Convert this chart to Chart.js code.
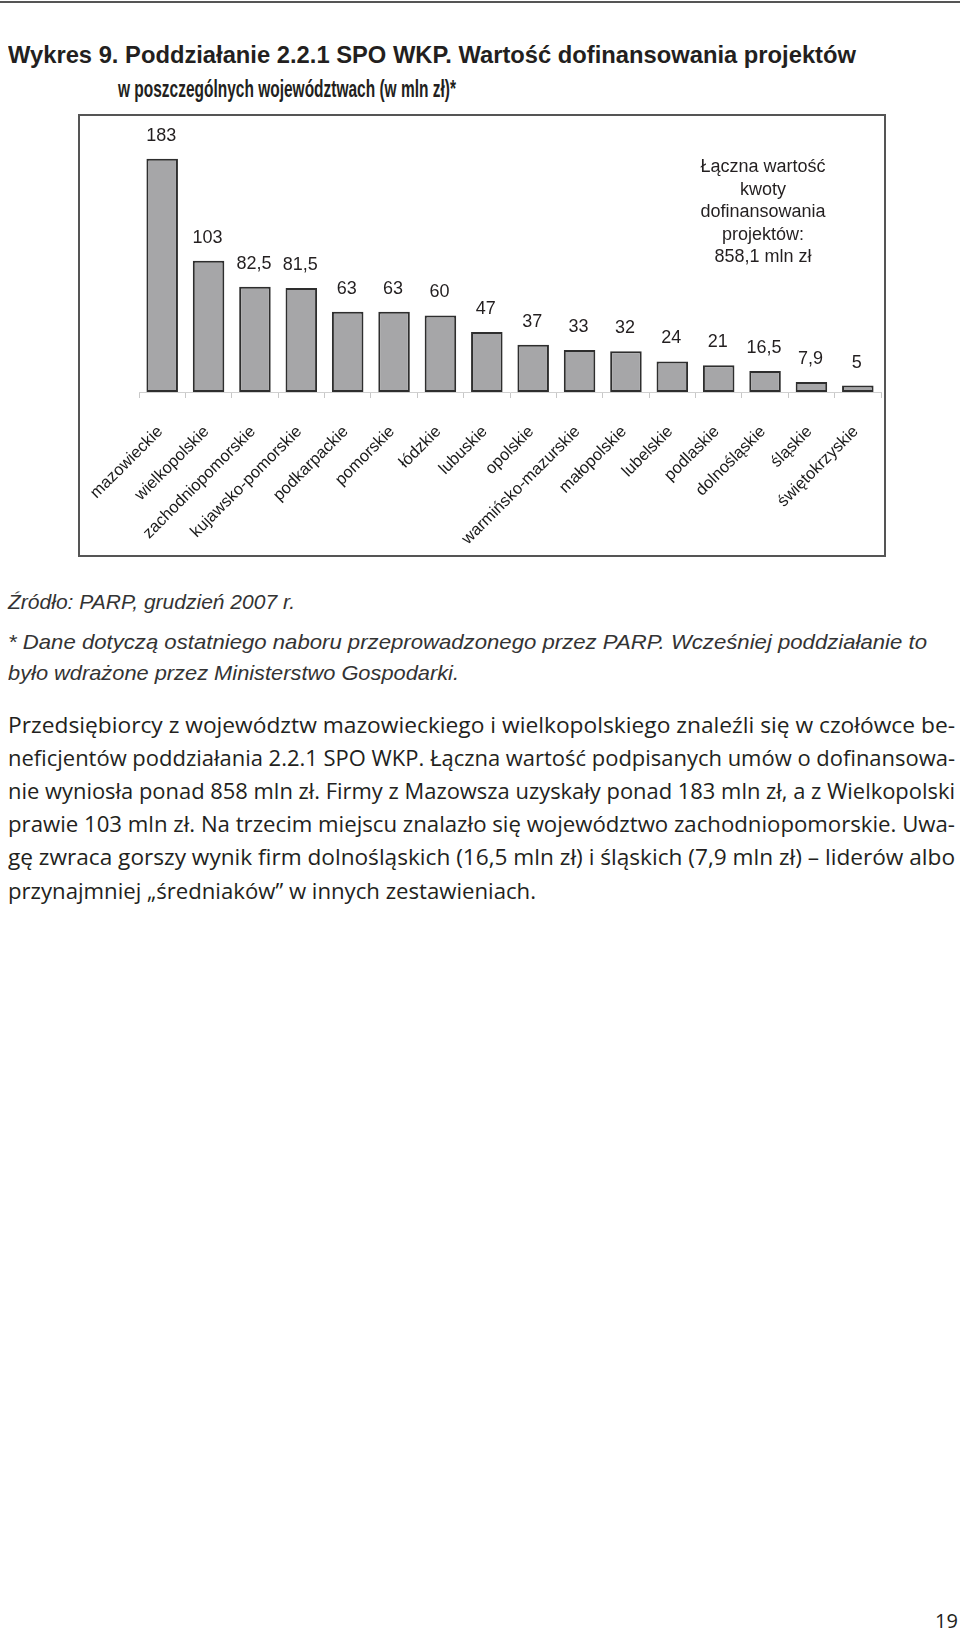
<!DOCTYPE html>
<html lang="pl">
<head>
<meta charset="utf-8">
<script src="https://cdn.jsdelivr.net/npm/chart.js@4.4.0/dist/chart.umd.min.js"></script>
<style>
  html, body { margin: 0; padding: 0; background: #fff; }
  body { width: 960px; height: 1632px; position: relative; overflow: hidden; color: #231f20; font-family: "Liberation Sans", Arial, sans-serif; }
  .rule { position: absolute; left: 0; top: 1px; width: 960px; height: 2px; background: #555; }
  .t { position: absolute; white-space: nowrap; transform-origin: 0 50%; line-height: 1; }
  .title { font-weight: bold; font-size: 24px; }
  .src { font-style: italic; font-size: 21px; color: #333; }
  .para { font-family: "Open Sans", sans-serif; font-size: 21.5px; }
  .box { position: absolute; left: 78px; top: 114px; width: 808px; height: 443px; box-sizing: border-box; border: 2px solid #555; }
  .wrap { position: absolute; left: 0; top: 114px; width: 960px; height: 443px; }
  .note { position: absolute; left: 663px; top: 155px; width: 200px; text-align: center; font-size: 18px; line-height: 22.5px; }
</style>
</head>
<body>
<div class="rule"></div>

<div class="t title" style="left:8px; top:43px;" data-w="848">Wykres 9. Poddziałanie 2.2.1 SPO WKP. Wartość dofinansowania projektów</div>
<div class="t title" style="left:118px; top:77px;" data-w="338">w poszczególnych województwach (w mln zł)*</div>

<div class="box"></div>
<div class="wrap"><canvas id="chart"></canvas></div>
<div class="note">Łączna wartość<br>kwoty<br>dofinansowania<br>projektów:<br>858,1 mln zł</div>

<div class="t src" style="left:8px; top:591px;" data-w="287">Źródło: PARP, grudzień 2007 r.</div>
<div class="t src" style="left:8px; top:631px;" data-w="919">* Dane dotyczą ostatniego naboru przeprowadzonego przez PARP. Wcześniej poddziałanie to</div>
<div class="t src" style="left:8px; top:662px;" data-w="451">było wdrażone przez Ministerstwo Gospodarki.</div>

<div class="t para" style="left:8px; top:714px;" data-w="947">Przedsiębiorcy z województw mazowieckiego i wielkopolskiego znaleźli się w czołówce be-</div>
<div class="t para" style="left:8px; top:747px;" data-w="947">neficjentów poddziałania 2.2.1 SPO WKP. Łączna wartość podpisanych umów o dofinansowa-</div>
<div class="t para" style="left:8px; top:780px;" data-w="947">nie wyniosła ponad 858 mln zł. Firmy z Mazowsza uzyskały ponad 183 mln zł, a z Wielkopolski</div>
<div class="t para" style="left:8px; top:813px;" data-w="947">prawie 103 mln zł. Na trzecim miejscu znalazło się województwo zachodniopomorskie. Uwa-</div>
<div class="t para" style="left:8px; top:846px;" data-w="947">gę zwraca gorszy wynik firm dolnośląskich (16,5 mln zł) i śląskich (7,9 mln zł) – liderów albo</div>
<div class="t para" style="left:8px; top:880px;" data-w="528">przynajmniej „średniaków” w innych zestawieniach.</div>

<div class="t para" style="left:935px; top:1611px; font-size:20px;">19</div>

<script>
const regions = [
    'mazowieckie', 'wielkopolskie', 'zachodniopomorskie', 'kujawsko-pomorskie',
    'podkarpackie', 'pomorskie', 'łódzkie', 'lubuskie', 'opolskie',
    'warmińsko-mazurskie', 'małopolskie', 'lubelskie', 'podlaskie',
    'dolnośląskie', 'śląskie', 'świętokrzyskie'
];
const values = [183, 103, 82.5, 81.5, 63, 63, 60, 47, 37, 33, 32, 24, 21, 16.5, 7.9, 5];
const valueLabels = values.map(v => String(v).replace('.', ','));
const yMax = 218;

// squeeze each text line to the width it has in the print
const fitLines = () => {
    document.querySelectorAll('[data-w]').forEach(el => {
        const w = el.getBoundingClientRect().width;
        el.style.transform = 'scaleX(' + (el.dataset.w / w) + ')';
    });
};
fitLines();

const valueLabelPlugin = {
    id: 'valueLabels',
    afterDatasetsDraw(chart) {
        const ctx = chart.ctx;
        const meta = chart.getDatasetMeta(0);
        ctx.save();
        ctx.font = '18px "Liberation Sans", Arial, sans-serif';
        ctx.fillStyle = '#231f20';
        ctx.textAlign = 'center';
        ctx.textBaseline = 'alphabetic';
        meta.data.forEach((bar, i) => {
            ctx.fillText(valueLabels[i], bar.x - 1, bar.y - 18);
        });
        ctx.restore();
    }
};

let chart = new Chart(document.getElementById('chart'), {
    type: 'bar',
    data: {
        labels: regions,
        datasets: [{
            data: values,
            backgroundColor: '#a6a6a8',
            borderColor: '#2e2e2e',
            borderWidth: 2,
            borderSkipped: false,
            barPercentage: 0.68,
            categoryPercentage: 1
        }]
    },
    options: {
        responsive: true,
        maintainAspectRatio: false,
        animation: false,
        layout: { padding: { left: 139, right: 79, top: 0, bottom: 0 } },
        plugins: {
            legend: { display: false },
            tooltip: { enabled: false }
        },
        scales: {
            x: {
                afterFit: (scale) => {
                    scale.height = 165;
                    scale.paddingLeft = 0;
                    scale.paddingRight = 0;
                },
                grid: {
                    display: true,
                    drawOnChartArea: false,
                    drawTicks: true,
                    tickLength: 6,
                    color: '#c8c8c8',
                    offset: true
                },
                border: { display: true, color: '#d0d0d0', width: 1 },
                ticks: {
                    autoSkip: false,
                    maxRotation: 45,
                    minRotation: 45,
                    padding: 24,
                    labelOffset: -2,
                    color: '#1a1a1a',
                    font: { family: '"Liberation Sans", Arial, sans-serif', size: 16.5 }
                }
            },
            y: {
                display: false,
                min: 0,
                max: yMax
            }
        }
    },
    plugins: [valueLabelPlugin]
});
</script>
</body>
</html>
